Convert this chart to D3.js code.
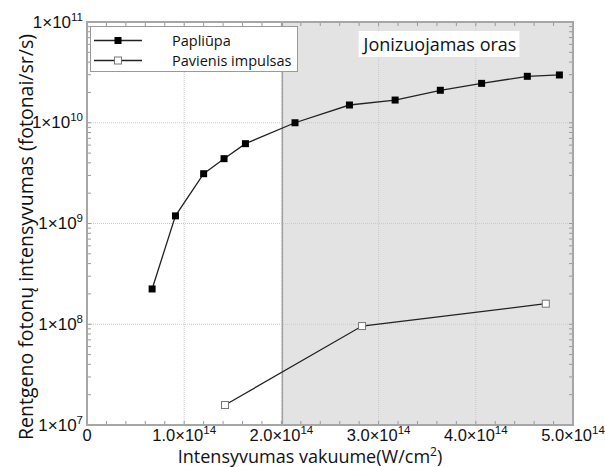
<!DOCTYPE html>
<html><head><meta charset="utf-8">
<script src="https://cdn.jsdelivr.net/npm/d3@7"></script>
<style>body{margin:0;background:#fff}svg{display:block}</style>
</head><body>
<svg id="c" width="605" height="467"></svg>
<script>
const papX = [0.67e14,0.91e14,1.20e14,1.41e14,1.63e14,2.14e14,2.70e14,3.17e14,3.635e14,4.06e14,4.53e14,4.86e14];
const papY = [2.24e8,1.19e9,3.12e9,4.4e9,6.2e9,1.0e10,1.5e10,1.68e10,2.1e10,2.46e10,2.89e10,2.98e10];
const pavX = [1.42e14,2.83e14,4.72e14];
const pavY = [1.58e7,9.6e7,1.6e8];
const seriesNames = ["Papliūpa","Pavienis impulsas"];
const xTicks = [0,1e14,2e14,3e14,4e14,5e14];
const xTickMant = ["0","1.0","2.0","3.0","4.0","5.0"];
const xTickExp = "14";
const yTicks = [1e7,1e8,1e9,1e10,1e11];
const yTickExp = ["7","8","9","10","11"];
const regionStart = 2.01e14;
const regionLabel = "Jonizuojamas oras";
const xTitle = "Intensyvumas vakuume(W/cm";
const yTitle = "Rentgeno fotonų intensyvumas (fotonai/sr/s)";

const L=87,R=573,T=22,B=425;
const svg=d3.select("#c");
const x=d3.scaleLinear().domain([0,5e14]).range([L,R]);
const y=d3.scaleLog().domain([1e7,1e11]).range([B,T]);
const sans="'Open Sans', sans-serif", arial="'Liberation Sans Narrow','Arial Narrow','Liberation Sans', sans-serif";

// shaded region
svg.append("rect").attr("x",x(regionStart)).attr("y",T).attr("width",x(5e14)-x(regionStart)).attr("height",B-T).attr("fill","#e3e3e3");
svg.append("line").attr("x1",x(regionStart)).attr("x2",x(regionStart)).attr("y1",T).attr("y2",B).attr("stroke","#a0a0a0").attr("stroke-width",1.5);

// grid
const g=svg.append("g");
[1e14,2e14,3e14,4e14].forEach(v=>g.append("line").attr("x1",x(v)).attr("x2",x(v)).attr("y1",T).attr("y2",B).attr("stroke","#c8c8c8").attr("stroke-dasharray","1,1"));
[1e8,1e9,1e10].forEach(v=>g.append("line").attr("y1",y(v)).attr("y2",y(v)).attr("x1",L).attr("x2",R).attr("stroke","#c8c8c8").attr("stroke-dasharray","1,1"));

// minor ticks
const xMinor=d3.range(0,5e14+1,0.2e14);
const yMinor=[];
for(let e=7;e<11;e++) for(let m=1;m<10;m++) yMinor.push(m*Math.pow(10,e));
const tk=svg.append("g").attr("stroke","#999").attr("stroke-width",1);
xMinor.forEach(v=>{
  tk.append("line").attr("x1",x(v)).attr("x2",x(v)).attr("y1",B).attr("y2",B-4);
  tk.append("line").attr("x1",x(v)).attr("x2",x(v)).attr("y1",T).attr("y2",T+4);
});
yMinor.forEach(v=>{
  tk.append("line").attr("y1",y(v)).attr("y2",y(v)).attr("x1",L).attr("x2",L+4);
  tk.append("line").attr("y1",y(v)).attr("y2",y(v)).attr("x1",R).attr("x2",R-4);
});

// frame
svg.append("rect").attr("x",L).attr("y",T).attr("width",R-L).attr("height",B-T).attr("fill","none").attr("stroke","#a6a6a6").attr("stroke-width",2);

// region label
const rl=svg.append("g");
const rlt=rl.append("text").attr("x",440).attr("y",51).attr("text-anchor","middle").attr("font-family",sans).attr("font-size",18).attr("fill","#111").text(regionLabel);
const bb=rlt.node().getBBox();
rl.insert("rect","text").attr("x",bb.x-3).attr("y",31).attr("width",bb.width+6).attr("height",26).attr("fill","#fff");

// lines
const line=d3.line().x(d=>x(d[0])).y(d=>y(d[1]));
const pap=papX.map((v,i)=>[v,papY[i]]);
const pav=pavX.map((v,i)=>[v,pavY[i]]);
svg.append("path").attr("d",line(pap)).attr("fill","none").attr("stroke","#222").attr("stroke-width",1.3);
svg.append("path").attr("d",line(pav)).attr("fill","none").attr("stroke","#222").attr("stroke-width",1.3);
const ms=7;
svg.selectAll(".p1").data(pap).join("rect").attr("x",d=>x(d[0])-ms/2).attr("y",d=>y(d[1])-ms/2).attr("width",ms).attr("height",ms).attr("fill","#000");
svg.selectAll(".p2").data(pav).join("rect").attr("x",d=>x(d[0])-ms/2).attr("y",d=>y(d[1])-ms/2).attr("width",ms).attr("height",ms).attr("fill","#fff").attr("stroke","#777").attr("stroke-width",1);

// legend
const lg=svg.append("g");
lg.append("rect").attr("x",90.5).attr("y",26.5).attr("width",207).attr("height",45).attr("fill","#fff").attr("stroke","#999").attr("stroke-width",1);
[40.5,60.5].forEach((yy,i)=>{
  lg.append("line").attr("x1",94).attr("x2",142).attr("y1",yy).attr("y2",yy).attr("stroke","#222").attr("stroke-width",1.3);
  lg.append("rect").attr("x",118-ms/2).attr("y",yy-ms/2).attr("width",ms).attr("height",ms).attr("fill",i==0?"#000":"#fff").attr("stroke",i==0?"none":"#777");
  lg.append("text").attr("x",172).attr("y",yy+5).attr("font-family",sans).attr("font-size",14.5).attr("fill","#111").text(seriesNames[i]);
});

// x tick labels
xTicks.forEach((v,i)=>{
  const t=svg.append("text").attr("x",x(v)).attr("y",441).attr("text-anchor","middle").attr("font-family",arial).attr("font-size",16.5).attr("fill","#111");
  if(v===0){t.text(xTickMant[i]);}
  else{t.append("tspan").text(xTickMant[i]+"×10");t.append("tspan").attr("dy",-7).attr("font-size",11.5).text(xTickExp);}
});
// y tick labels
yTicks.forEach((v,i)=>{
  const t=svg.append("text").attr("x",83).attr("y",y(v)+5.5).attr("text-anchor","end").attr("font-family",arial).attr("font-size",17).attr("fill","#111");
  t.append("tspan").text("1×10");t.append("tspan").attr("dy",-7).attr("font-size",11.5).text(yTickExp[i]);
});

// titles
const xt=svg.append("text").attr("x",310).attr("y",463).attr("text-anchor","middle").attr("font-family",sans).attr("font-size",18).attr("fill","#111");
xt.append("tspan").text(xTitle);
xt.append("tspan").attr("dy",-7).attr("font-size",12).text("2");
xt.append("tspan").attr("dy",7).text(")");
svg.append("text").attr("transform","translate(33,237) rotate(-90)").attr("text-anchor","middle").attr("font-family",sans).attr("font-size",19.5).attr("fill","#111").text(yTitle);
</script>
</body></html>
